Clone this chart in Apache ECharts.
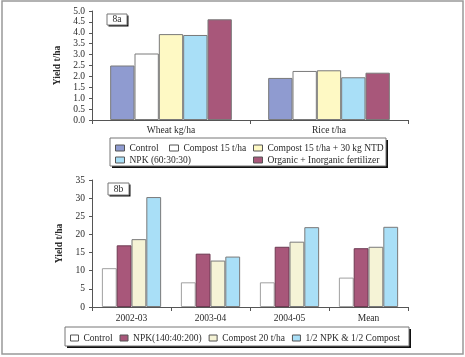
<!DOCTYPE html>
<html><head><meta charset="utf-8">
<script src="https://cdn.jsdelivr.net/npm/echarts@6/dist/echarts.min.js"></script>
<style>html,body{margin:0;padding:0;background:#fff}#c{width:465px;height:357px}</style>
</head><body><div id="c"></div>
<script>
var categoriesA = ['Wheat kg/ha', 'Rice t/ha'];
var controlA = [2.5, 1.93];
var compost15A = [3.05, 2.25];
var compostNtdA = [3.94, 2.28];
var npkA = [3.9, 1.96];
var organicA = [4.62, 2.17];
var yTicksA = [0, 5, 0.5];

var categoriesB = ['2002-03', '2003-04', '2004-05', 'Mean'];
var controlB = [10.7, 6.8, 6.8, 8.1];
var npkB = [17.0, 14.7, 16.6, 16.2];
var compostB = [18.7, 12.8, 18.0, 16.6];
var halfB = [30.3, 13.9, 22.0, 22.1];
var yTicksB = [0, 35, 5];

var FONT = 'Liberation Serif';
var FS = 9.5;
var TXT = '#2a2a2a';
var AX = '#555';

var cA = {control:'#8f9bd0', compost:'#ffffff', ntd:'#fef9c4', npk:'#a9dff7', org:'#a8577a'};
var cB = {control:'#ffffff', npk:'#a8577a', compost:'#f5f3d6', half:'#a9dff7'};

function barA(name, data, color) {
  return {type:'bar', name:name, data:data, xAxisIndex:0, yAxisIndex:0,
    barGap:'0%', barCategoryGap:'23%',
    itemStyle:{color:color, borderColor:'#7a7a7a', borderWidth:1}};
}
function barB(name, data, color, border) {
  return {type:'bar', name:name, data:data, xAxisIndex:1, yAxisIndex:1,
    barGap:'0%', barCategoryGap:'25%',
    itemStyle:{color:color, borderColor:border || '#7a7a7a', borderWidth:1}};
}
function legItem(name, color, left, top) {
  return {show:true, left:left, top:top, padding:0, itemWidth:9, itemHeight:6, icon:'rect',
    selectedMode:false,
    textStyle:{fontFamily:FONT, fontSize:FS, color:TXT},
    data:[{name:name, icon:'rect', itemStyle:{color:color, borderColor:'#555', borderWidth:1}}]};
}
function box(x, y, w, h, sh) {
  return [
    {type:'rect', z:1, shape:{x:x+sh, y:y+sh, width:w, height:h}, style:{fill:'#111'}},
    {type:'rect', z:2, shape:{x:x, y:y, width:w, height:h}, style:{fill:'#fff', stroke:'#777', lineWidth:1}}
  ];
}

var chart = echarts.init(document.getElementById('c'));
var graphics = [
  {type:'rect', z:0, shape:{x:2, y:1, width:461, height:353}, style:{fill:'none', stroke:'#999', lineWidth:1.5}}
].concat(box(110, 138, 276, 28, 2), box(65, 327, 344, 19, 2), box(107, 14, 20, 11, 1.5), box(108, 183, 21, 12, 1.5));
graphics.push({type:'text', z:3, x:117, y:19.5, style:{text:'8a', font:FS + 'px "Liberation Serif"', fill:TXT, textAlign:'center', textVerticalAlign:'middle'}});
graphics.push({type:'text', z:3, x:118.5, y:189, style:{text:'8b', font:FS + 'px "Liberation Serif"', fill:TXT, textAlign:'center', textVerticalAlign:'middle'}});

function yAxis(idx, t, fmt, gap) {
  return {type:'value', gridIndex:idx, min:t[0], max:t[1], interval:t[2],
    name:'Yield t/ha', nameLocation:'middle', nameGap:gap,
    nameTextStyle:{fontFamily:FONT, fontSize:FS, fontWeight:'bold', color:TXT},
    axisLine:{show:true, lineStyle:{color:AX}},
    axisTick:{show:true, length:3, lineStyle:{color:AX}},
    axisLabel:{formatter:fmt, fontFamily:FONT, fontSize:FS, color:TXT, margin:7},
    splitLine:{show:false}};
}
function xAxis(idx, cats, margin) {
  return {type:'category', gridIndex:idx, data:cats,
    axisLine:{lineStyle:{color:AX}},
    axisTick:{show:true, length:4, lineStyle:{color:AX}},
    axisLabel:{fontFamily:FONT, fontSize:FS, color:TXT, margin:margin}};
}

chart.setOption({
  animation:false,
  textStyle:{fontFamily:FONT},
  grid:[
    {left:92, top:11, width:316, height:109},
    {left:92, top:180, width:316, height:127}
  ],
  xAxis:[xAxis(0, categoriesA, 5), xAxis(1, categoriesB, 6)],
  yAxis:[
    yAxis(0, yTicksA, function(v){return v.toFixed(1);}, 27),
    yAxis(1, yTicksB, function(v){return String(v);}, 24)
  ],
  legend:[
    legItem('Control', cA.control, 115, 143),
    legItem('Compost 15 t/ha', cA.compost, 169, 143),
    legItem('Compost 15 t/ha + 30 kg NTD', cA.ntd, 253, 143),
    legItem('NPK (60:30:30)', cA.npk, 115, 155),
    legItem('Organic + Inorganic fertilizer', cA.org, 253, 155),
    {show:true, left:70, top:333, padding:0, itemWidth:8, itemHeight:6, itemGap:7, icon:'rect', selectedMode:false,
     textStyle:{fontFamily:FONT, fontSize:FS, color:TXT},
     data:[
      {name:'Control', itemStyle:{color:cB.control, borderColor:'#555', borderWidth:1}},
      {name:'NPK(140:40:200)', itemStyle:{color:cB.npk, borderColor:'#555', borderWidth:1}},
      {name:'Compost 20 t/ha', itemStyle:{color:cB.compost, borderColor:'#555', borderWidth:1}},
      {name:'1/2 NPK & 1/2 Compost', itemStyle:{color:cB.half, borderColor:'#555', borderWidth:1}}
     ]}
  ],
  graphic:graphics,
  series:[
    barA('Control', controlA, cA.control),
    barA('Compost 15 t/ha', compost15A, cA.compost),
    barA('Compost 15 t/ha + 30 kg NTD', compostNtdA, cA.ntd),
    barA('NPK (60:30:30)', npkA, cA.npk),
    barA('Organic + Inorganic fertilizer', organicA, cA.org),
    barB('Control', controlB, cB.control, '#a0a0a0'),
    barB('NPK(140:40:200)', npkB, cB.npk, '#6e3a52'),
    barB('Compost 20 t/ha', compostB, cB.compost),
    barB('1/2 NPK & 1/2 Compost', halfB, cB.half)
  ]
});
</script></body></html>
